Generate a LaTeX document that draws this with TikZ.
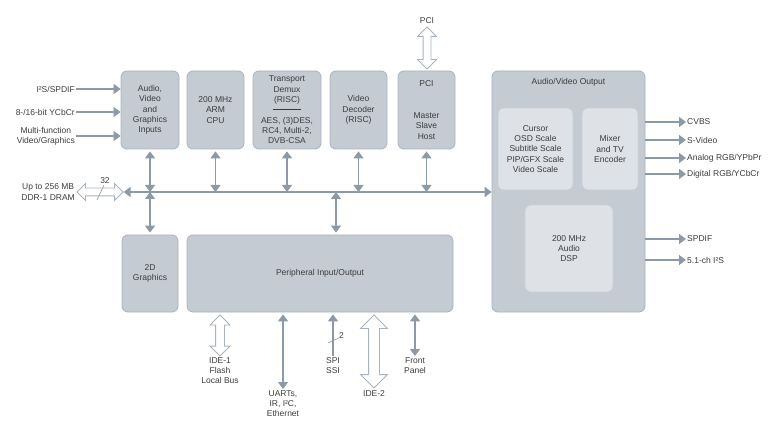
\documentclass[tikz,border=0pt]{standalone}
\usepackage{fontspec}
\setmainfont{Liberation Sans}
\usetikzlibrary{arrows.meta,shapes.arrows}

\definecolor{blkfill}{HTML}{C4CBD3}
\definecolor{blkline}{HTML}{A9B3BD}
\definecolor{subfill}{HTML}{DEE2E7}
\definecolor{subline}{HTML}{C9CFD5}
\definecolor{arrgrey}{HTML}{8C9AA8}
\definecolor{txtgrey}{HTML}{3C3C3C}

\tikzset{
  every node/.style={font=\fontsize{8.5}{10.3}\selectfont, text=txtgrey},
  blk/.style={draw=blkline, fill=blkfill, line width=0.8pt, rounded corners=6pt, align=center, inner sep=0pt},
  subblk/.style={blk, draw=subline, fill=subfill},
  lbl/.style={align=center, inner sep=1pt},
  hd/.tip={Triangle[width=10pt,length=7pt]},
  arr/.style={draw=arrgrey, line width=1.3pt, -hd},
  dbl/.style={draw=arrgrey, line width=1.3pt, hd-hd},
  hollow/.style={double arrow, draw=blkline, fill=white, line width=0.8pt, inner xsep=0pt, double arrow tip angle=90},
  slash/.style={draw=arrgrey, line width=0.6pt},
}

\begin{document}
\begin{tikzpicture}[x=1pt,y=-1pt]
\useasboundingbox (0,0) rectangle (768,430);

% top row of blocks
\node[blk, minimum width=58pt, minimum height=78pt] (avin) at (150,110) {Audio,\\Video\\and\\Graphics\\Inputs};
\node[blk, minimum width=57pt, minimum height=78pt] (cpu) at (215.5,110) {200 MHz\\ARM\\CPU};
\node[blk, minimum width=68pt, minimum height=78pt] (demux) at (287,110) {Transport\\Demux\\(RISC)\\\rule[3pt]{28pt}{0.5pt}\\AES, (3)DES,\\RC4, Multi-2,\\DVB-CSA};
\node[blk, minimum width=57pt, minimum height=78pt] (vdec) at (358.5,110) {Video\\Decoder\\(RISC)};
\node[blk, minimum width=57pt, minimum height=78pt] (pci) at (426.5,110) {PCI\\[21.5pt]Master\\Slave\\Host};

% audio/video output
\node[blk, minimum width=153pt, minimum height=241pt] (avout) at (568.5,191.5) {};
\node[lbl] (avtitle) at (568.5,82) {Audio/Video Output};
\node[subblk, minimum width=75pt, minimum height=82pt] (scale) at (535.5,149) {Cursor\\OSD Scale\\Subtitle Scale\\PIP/GFX Scale\\Video Scale};
\node[subblk, minimum width=56pt, minimum height=82pt] (mixer) at (610,149) {Mixer\\and TV\\Encoder};
\node[subblk, minimum width=88pt, minimum height=87pt] (dsp) at (569,248.5) {200 MHz\\Audio\\DSP};

% bottom row
\node[blk, minimum width=56pt, minimum height=77pt] (gfx) at (150,273.5) {2D\\Graphics};
\node[blk, minimum width=266pt, minimum height=77pt] (perio) at (320,273.5) {Peripheral Input/Output};

% memory bus
\node[lbl, anchor=east] (dramlbl) at (76,192) {Up to 256 MB\\DDR-1 DRAM};
\node[hollow, minimum height=46pt, inner ysep=3.5pt, double arrow head extend=4.5pt] (dram) at (100,192) {};
\draw[slash] (97,200) -- (104,185);
\node[lbl] (w32) at (105,181) {32};
\draw[dbl] (dram.east) -- (dram.east -| avout.west);

\coordinate (busy) at (0,192);
\coordinate (ptap) at (336,192);
\foreach \b in {avin,cpu,demux,vdec,pci}
  \draw[dbl, shorten <=2pt] (\b.south) -- (\b.south |- busy);
\draw[dbl, shorten >=2pt] (gfx.north |- busy) -- (gfx.north);
\draw[dbl, shorten >=2pt] (ptap) -- (ptap |- perio.north);

% PCI bus
\node[hollow, rotate=90, minimum height=42pt, inner ysep=3.5pt, double arrow head extend=5.5pt] (pcibus) at (427,48) {};
\node[lbl] (pcilbl) at (427,21) {PCI};

% inputs
\node[lbl, anchor=east] (i2s) at (76,89) {I²S/SPDIF};
\node[lbl, anchor=east] (ycbcr) at (76,112) {8-/16-bit YCbCr};
\node[lbl, anchor=east] (mfunc) at (76,136) {Multi-function\\Video/Graphics};
\foreach \s in {i2s,ycbcr,mfunc}
  \draw[arr] (\s.east) -- (\s.east -| avin.west);

% outputs
\node[lbl, anchor=west] (cvbs) at (686,122) {CVBS};
\node[lbl, anchor=west] (svideo) at (686,140) {S-Video};
\node[lbl, anchor=west] (argb) at (686,158) {Analog RGB/YPbPr};
\node[lbl, anchor=west] (drgb) at (686,174) {Digital RGB/YCbCr};
\node[lbl, anchor=west] (spdif) at (686,239) {SPDIF};
\node[lbl, anchor=west] (i2sout) at (686,260) {5.1-ch I²S};
\foreach \s in {cvbs,svideo,argb,drgb,spdif,i2sout}
  \draw[arr] (\s.west -| avout.east) -- (\s.west);

% peripherals
\node[hollow, rotate=90, minimum height=41pt, inner ysep=4pt, double arrow head extend=5.5pt] (ide1) at (220,335.5) {};
\node[lbl, anchor=north] (ide1lbl) at (220,356) {IDE-1\\Flash\\Local Bus};
\node[lbl, anchor=north] (uarts) at (283,389) {UARTs,\\IR, I²C,\\Ethernet};
\draw[dbl, shorten >=2pt] (uarts.north) -- (uarts.north |- perio.south);
\node[lbl, anchor=north] (spi) at (333,356) {SPI\\SSI};
\draw[arr, shorten >=2pt] (spi.north) -- (spi.north |- perio.south);
\draw[slash] (328,343) -- (339,338);
\node[lbl, anchor=west, inner sep=0pt] (w2) at (339,336) {2};
\node[hollow, rotate=90, minimum height=73pt, inner ysep=5pt, double arrow head extend=8pt] (ide2) at (374,351.5) {};
\node[lbl, anchor=north] (ide2lbl) at (374,389) {IDE-2};
\node[lbl, anchor=north] (fpanel) at (415,356) {Front\\Panel};
\draw[dbl, shorten >=2pt] (fpanel.north) -- (fpanel.north |- perio.south);
\end{tikzpicture}
\end{document}
